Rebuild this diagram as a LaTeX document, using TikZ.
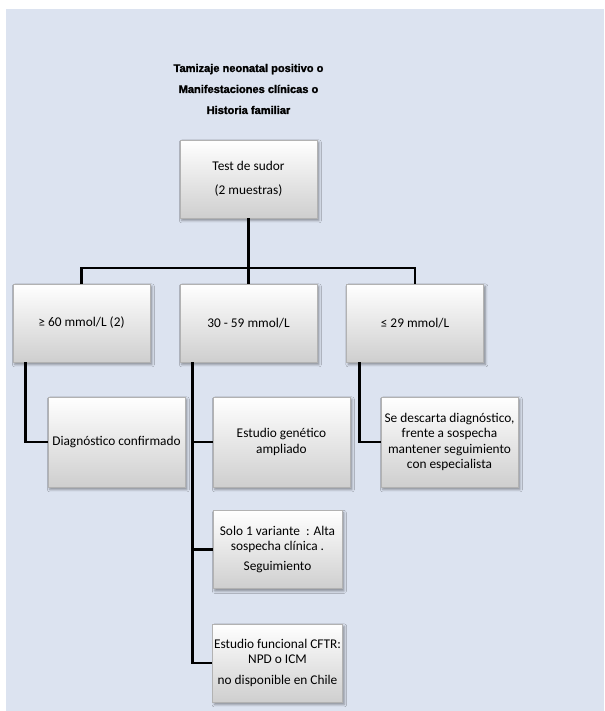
\documentclass[tikz,border=0pt]{standalone}
\usepackage{fontspec}
\setmainfont{Carlito}
\newfontfamily\titlefont{Liberation Sans}[BoldFeatures={FakeBold=1.6}]
\usetikzlibrary{shadows.blur}
\definecolor{fondo}{RGB}{220,227,240}

\begin{document}
\begin{tikzpicture}[x=0.75pt,y=-0.75pt,
	caja/.style={draw=gray!60, thin, top color=white, bottom color=gray!38,
		minimum width=102.75pt, minimum height=58.5pt, inner sep=1pt, align=center,
		font=\fontsize{10}{11.4}\selectfont,
		blur shadow={shadow xshift=1.4pt, shadow yshift=-1.8pt, shadow blur steps=4}},
	linea/.style={line width=1.9pt}]
	\useasboundingbox (0,0) rectangle (604,711);
	\fill[fondo] (6,9) rectangle (604,711);

	\node[font=\titlefont\bfseries\fontsize{8.3}{15.75}\selectfont, align=center] (titulo) at (248.5,89)
		{Tamizaje neonatal positivo o\\Manifestaciones clínicas o\\Historia familiar};
	\node[caja] (test) at (248.5,179) {Test de sudor\\[7pt](2 muestras)};

	\node[caja] (mayor) at (81.5,323) {≥ 60 mmol/L (2)};
	\node[caja] (medio) at (248.5,323) {30 - 59 mmol/L};
	\node[caja] (menor) at (415,323) {≤ 29 mmol/L};

	\node[caja, minimum height=67.5pt] (diag) at (116.5,442) {Diagnóstico confirmado};
	\node[caja, minimum height=67.5pt] (genetico) at (281.5,442) {Estudio genético\\ampliado};
	\node[caja, minimum height=67.5pt] (descarta) at (449.5,442)
		{Se descarta diagnóstico,\\frente a sospecha\\mantener seguimiento\\con especialista};
	\node[caja, minimum width=96.75pt] (variante) at (277.5,549.5) {Solo 1 variante~~: Alta\\sospecha clínica .\\[4pt]Seguimiento};
	\node[caja, minimum width=96.75pt] (funcional) at (277.5,663) {Estudio funcional CFTR:\\NPD o ICM\\[4pt]no disponible en Chile};

	\coordinate (reparto) at (248.5,268);
	\draw[linea] (test) -- (reparto);
	\draw[linea] (mayor) |- (reparto) -| (menor);
	\draw[linea] (reparto) -- (medio);
	\draw[linea] ([xshift=9.75pt]mayor.south west) |- (diag);
	\foreach \destino in {genetico,variante,funcional}
		\draw[linea] ([xshift=9.75pt]medio.south west) |- (\destino);
	\draw[linea] ([xshift=9.75pt]menor.south west) |- (descarta);
\end{tikzpicture}
\end{document}
